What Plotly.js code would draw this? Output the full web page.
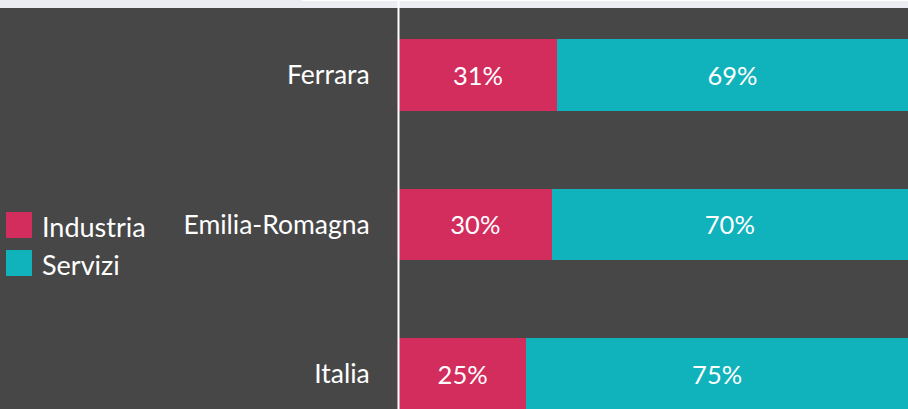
<!DOCTYPE html>
<html>
<head>
<meta charset="utf-8">
<script src="https://cdn.plot.ly/plotly-3.0.1.min.js"></script>
<style>html,body{margin:0;padding:0;background:#474747;}#chart{width:908px;height:409px;}</style>
</head>
<body>
<div id="chart"></div>
<script>
// Data
var categories = ['Italia', 'Emilia-Romagna', 'Ferrara'];
var industria = [25, 30, 31];
var servizi = [75, 70, 69];
var seriesNames = ['Industria', 'Servizi'];
var seriesColors = ['#D32D5E', '#10B3BB'];

var W = 908, H = 409;
var M = {l: 399, r: 0, t: 8, b: 0};
var PW = W - M.l - M.r, PH = H - M.t - M.b;
function px(x) { return (x - M.l) / PW; }
function py(y) { return 1 - (y - M.t) / PH; }

var FONT = 'Lato, "Open Sans", sans-serif';

var traces = [industria, servizi].map(function (vals, i) {
  return {
    type: 'bar',
    orientation: 'h',
    name: seriesNames[i],
    y: categories,
    x: vals,
    width: 0.48,
    marker: {color: seriesColors[i], line: {width: 0}},
    texttemplate: '%{x}%',
    textposition: 'inside',
    insidetextanchor: 'middle',
    textfont: {family: FONT, size: 25.5, color: '#FFFFFF'},
    hoverinfo: 'skip',
    showlegend: false
  };
});

var shapes = [
  // top light strip
  {type: 'rect', xref: 'paper', yref: 'paper', x0: px(0), x1: px(W), y0: py(8), y1: py(0),
   fillcolor: '#ECEDF2', line: {width: 0}, layer: 'above'},
  // thin white line at top right
  {type: 'line', xref: 'paper', yref: 'paper', x0: px(302), x1: px(W), y0: py(0.5), y1: py(0.5),
   line: {color: '#FFFFFF', width: 1}},
  // vertical axis line
  {type: 'line', xref: 'paper', yref: 'paper', x0: px(398.5), x1: px(398.5), y0: py(1), y1: py(H),
   line: {color: '#FFFFFF', width: 2}}
];

// legend swatches
var legendRows = [{y0: 212, y1: 238}, {y0: 250, y1: 276}];
var annotations = [];
legendRows.forEach(function (r, i) {
  shapes.push({type: 'rect', xref: 'paper', yref: 'paper', x0: px(6), x1: px(32), y0: py(r.y1), y1: py(r.y0),
    fillcolor: seriesColors[i], line: {width: 0}});
  annotations.push({xref: 'paper', yref: 'paper', x: px(40), y: py((r.y0 + r.y1) / 2 + 1),
    xanchor: 'left', yanchor: 'middle', showarrow: false, text: seriesNames[i],
    font: {family: FONT, size: 27, color: '#FFFFFF'}});
});

var layout = {
  width: W, height: H,
  margin: M,
  paper_bgcolor: '#474747',
  plot_bgcolor: '#474747',
  barmode: 'stack',
  showlegend: false,
  font: {family: FONT, color: '#FFFFFF'},
  xaxis: {range: [0, 100], visible: false, fixedrange: true},
  yaxis: {
    type: 'category',
    categoryorder: 'array', categoryarray: categories,
    range: [-0.234, 2.448],
    showgrid: false, zeroline: false, showline: false,
    ticks: 'outside', ticklen: 23, tickcolor: 'rgba(0,0,0,0)',
    tickfont: {family: FONT, size: 26.5, color: '#FFFFFF'},
    fixedrange: true
  },
  shapes: shapes,
  annotations: annotations
};

Plotly.newPlot('chart', traces, layout, {displayModeBar: false, staticPlot: true});
</script>
</body>
</html>
